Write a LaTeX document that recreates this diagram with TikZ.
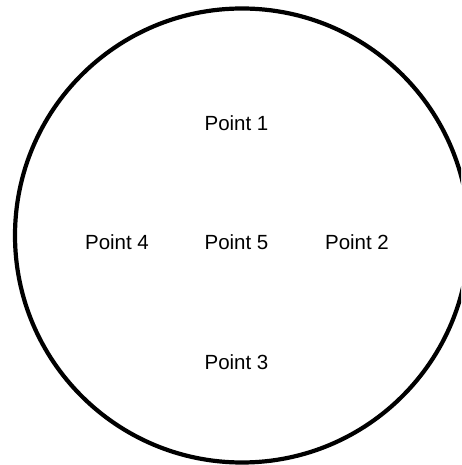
\documentclass[tikz,border=0pt]{standalone}
\usepackage{fontspec}
\setmainfont{Liberation Sans}
\usetikzlibrary{positioning}

\begin{document}
\begin{tikzpicture}[x=1pt,y=1pt,
  pointlabel/.style={font=\fontsize{20.5}{24}\selectfont,inner sep=0pt}]
\useasboundingbox (0,0) rectangle (461,465);
\clip (0,0) rectangle (461,465);
\draw[line width=4.2pt] (242,229.5) circle (227);
\foreach \n/\x/\y in {1/236.5/342,2/357/223,3/236.5/103,4/117/223,5/236.5/223}{
\node[pointlabel] (p\n) at (\x,\y){Point \n};}
\end{tikzpicture}
\end{document}
